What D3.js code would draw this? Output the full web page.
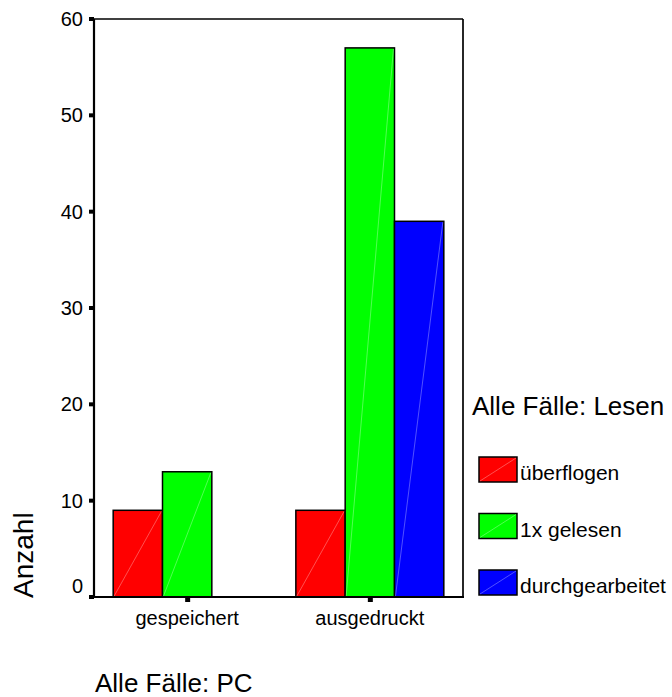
<!DOCTYPE html>
<html>
<head>
<meta charset="utf-8">
<script src="https://cdn.jsdelivr.net/npm/d3@7"></script>
<style>
  body { margin: 0; background: #fff; }
  svg { font-family: "Liberation Sans", Arial, sans-serif; }
</style>
</head>
<body>
<div id="chart"></div>
<script>
const width = 672;
const height = 697;

// Data
const categories = ["gespeichert", "ausgedruckt"];
const series = ["überflogen", "1x gelesen", "durchgearbeitet"];
const colors = ["#ff0000", "#00ff00", "#0000ff"];
const values = [
    [9, 13, 0],   // gespeichert
    [9, 57, 39]   // ausgedruckt
];
const yTicks = [0, 10, 20, 30, 40, 50, 60];

// Plot area
const plotLeft = 94, plotRight = 463, plotTop = 19, plotBottom = 597;

const svg = d3.select("#chart")
    .append("svg")
    .attr("width", width)
    .attr("height", height);

const y = d3.scaleLinear().domain([0, 60]).range([plotBottom, plotTop]);

const x = d3.scaleBand()
    .domain(categories)
    .range([plotLeft, plotRight])
    .paddingInner(0.19)
    .paddingOuter(0.105);

const xs = d3.scaleBand()
    .domain(series)
    .range([0, x.bandwidth()]);

const color = d3.scaleOrdinal().domain(series).range(colors);

// Bars
const rows = [];
categories.forEach((c, i) => {
    series.forEach((s, j) => {
        rows.push({ cat: c, ser: s, value: values[i][j] });
    });
});

const bars = svg.append("g")
    .selectAll("g")
    .data(rows.filter(d => d.value > 0))
    .enter().append("g");

bars.append("rect")
    .attr("x", d => x(d.cat) + xs(d.ser))
    .attr("y", d => y(d.value))
    .attr("width", xs.bandwidth())
    .attr("height", d => y(0) - y(d.value))
    .attr("fill", d => color(d.ser))
    .attr("stroke", "#000")
    .attr("stroke-width", 1.5);

// faint diagonal highlight
bars.append("line")
    .attr("x1", d => x(d.cat) + xs(d.ser) + 1)
    .attr("y1", y(0) - 1)
    .attr("x2", d => x(d.cat) + xs(d.ser) + xs.bandwidth() - 1)
    .attr("y2", d => y(d.value) + 1)
    .attr("stroke", "#fff")
    .attr("stroke-opacity", 0.45)
    .attr("stroke-width", 0.7);

// Frame
svg.append("line").attr("x1", plotLeft).attr("x2", plotRight).attr("y1", plotTop).attr("y2", plotTop)
    .attr("stroke", "#000").attr("stroke-width", 1.7);
svg.append("line").attr("x1", plotRight).attr("x2", plotRight).attr("y1", plotTop).attr("y2", plotBottom)
    .attr("stroke", "#000").attr("stroke-width", 1.7);
svg.append("line").attr("x1", plotLeft).attr("x2", plotLeft).attr("y1", plotTop).attr("y2", plotBottom + 1)
    .attr("stroke", "#000").attr("stroke-width", 2.2);
svg.append("line").attr("x1", plotLeft - 3).attr("x2", plotRight + 1).attr("y1", plotBottom).attr("y2", plotBottom)
    .attr("stroke", "#000").attr("stroke-width", 2.2);

// Y ticks (small squares) and labels
const yt = svg.append("g");
yt.selectAll("rect")
    .data(yTicks)
    .enter().append("rect")
    .attr("x", plotLeft - 5)
    .attr("y", d => y(d) - 2)
    .attr("width", 5)
    .attr("height", 4)
    .attr("fill", "#000");
yt.selectAll("text")
    .data(yTicks)
    .enter().append("text")
    .attr("x", 83)
    .attr("y", d => y(d) + (d === 0 ? -4 : 7))
    .attr("text-anchor", "end")
    .attr("font-size", 20)
    .text(d => d);

// X ticks and labels
const xt = svg.append("g");
xt.selectAll("rect")
    .data(categories)
    .enter().append("rect")
    .attr("x", d => x(d) + x.bandwidth() / 2 - 2)
    .attr("y", plotBottom + 1)
    .attr("width", 5)
    .attr("height", 4)
    .attr("fill", "#000");
xt.selectAll("text")
    .data(categories)
    .enter().append("text")
    .attr("x", d => x(d) + x.bandwidth() / 2)
    .attr("y", 625)
    .attr("text-anchor", "middle")
    .attr("font-size", 20)
    .text(d => d);

// Axis titles
svg.append("text")
    .attr("transform", "translate(33,598) rotate(-90)")
    .attr("font-size", 28)
    .text("Anzahl");

svg.append("text")
    .attr("x", 95)
    .attr("y", 692)
    .attr("font-size", 26)
    .text("Alle Fälle: PC");

// Legend
svg.append("text")
    .attr("x", 472)
    .attr("y", 415)
    .attr("font-size", 26)
    .text("Alle Fälle: Lesen");

const legend = svg.append("g")
    .selectAll("g")
    .data(series)
    .enter().append("g")
    .attr("transform", (d, i) => `translate(479,${457 + i * 56.5})`);

legend.append("rect")
    .attr("width", 38)
    .attr("height", 25)
    .attr("fill", d => color(d))
    .attr("stroke", "#000")
    .attr("stroke-width", 1.5);

legend.append("line")
    .attr("x1", 1).attr("y1", 24)
    .attr("x2", 37).attr("y2", 1)
    .attr("stroke", "#fff")
    .attr("stroke-opacity", 0.45)
    .attr("stroke-width", 0.7);

legend.append("text")
    .attr("x", 41)
    .attr("y", 23)
    .attr("font-size", 21)
    .text(d => d);
</script>
</body>
</html>
